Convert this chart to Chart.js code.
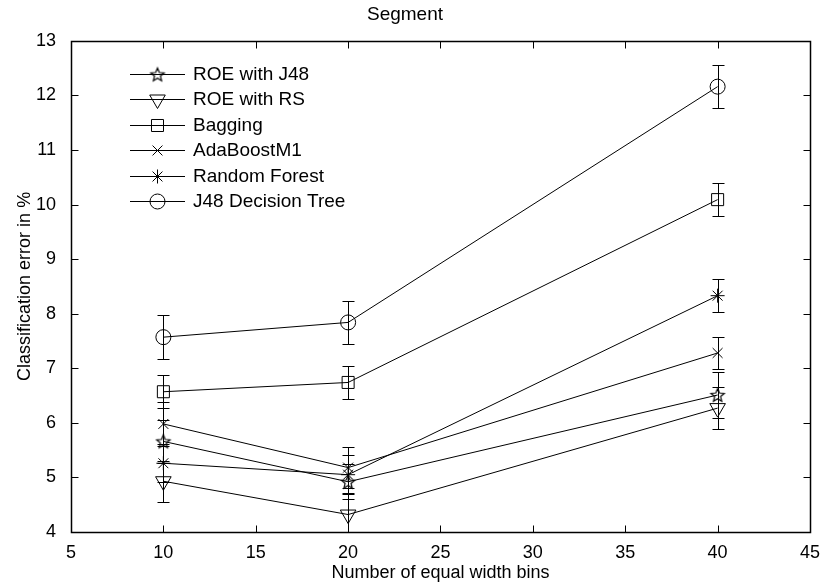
<!DOCTYPE html>
<html>
<head>
<meta charset="utf-8">
<title>Segment</title>
<script src="https://cdn.jsdelivr.net/npm/chart.js@4.4.0/dist/chart.umd.min.js"></script>
<style>
  html, body { margin: 0; padding: 0; background: #fff; }
  #wrap { width: 822px; height: 582px; }
</style>
</head>
<body>
<div id="wrap"><canvas id="chart"></canvas></div>
<script>
// bins on the x axis
const bins = [10, 20, 40]

// classification error (%) per method, with error bar half-lengths
const roeJ48 = [5.66, 4.92, 6.51]
const roeJ48Err = [0.40, 0.32, 0.42]
const roeRS = [4.93, 4.32, 6.27]
const roeRSErr = [0.38, 0.40, 0.38]
const bagging = [6.57, 6.74, 10.09]
const baggingErr = [0.30, 0.30, 0.30]
const adaBoost = [5.98, 5.18, 7.28]
const adaBoostErr = [0.40, 0.38, 0.30]
const randomForest = [5.26, 5.05, 8.33]
const randomForestErr = [0.35, 0.36, 0.30]
const j48Tree = [7.57, 7.84, 12.16]
const j48TreeErr = [0.40, 0.40, 0.40]

const xTicks = { min: 5, max: 45, step: 5 }
const yTicks = { min: 4, max: 13, step: 1 }

const FONT = '"Liberation Sans", Arial, Helvetica, sans-serif'

// five-point star marker (MATLAB 'p')
function makePentagram(r) {
  const size = Math.ceil(r * 2 + 4)
  const c = document.createElement('canvas')
  c.width = c.height = size
  const g = c.getContext('2d')
  const cx = size / 2, cy = size / 2 + 0.6, inner = r * 0.45
  g.beginPath()
  for (let k = 0; k < 10; k++) {
    const rr = k % 2 ? inner : r
    const a = -Math.PI / 2 + k * Math.PI / 5
    g.lineTo(cx + rr * Math.cos(a), cy + rr * Math.sin(a))
  }
  g.closePath()
  g.strokeStyle = '#000'
  g.lineWidth = 1.2
  g.stroke()
  return c
}

function series(label, values, errors, style) {
  return {
    label,
    data: values.map((v, i) => ({ x: bins[i], y: v })),
    errors,
    borderColor: '#000',
    borderWidth: 1,
    backgroundColor: 'transparent',
    pointBackgroundColor: 'transparent',
    pointBorderColor: '#000',
    pointBorderWidth: 1,
    tension: 0,
    ...style
  }
}

const datasets = [
  series('ROE with J48', roeJ48, roeJ48Err, { pointStyle: makePentagram(7), pointRadius: 7 }),
  series('ROE with RS', roeRS, roeRSErr, { pointStyle: 'triangle', pointRotation: 180, pointRadius: 9 }),
  series('Bagging', bagging, baggingErr, { pointStyle: 'rect', pointRadius: 8.5 }),
  series('AdaBoostM1', adaBoost, adaBoostErr, { pointStyle: 'crossRot', pointRadius: 7 }),
  series('Random Forest', randomForest, randomForestErr, { pointStyle: 'star', pointRadius: 7 }),
  series('J48 Decision Tree', j48Tree, j48TreeErr, { pointStyle: 'circle', pointRadius: 7.5 })
]

// vertical error bars with caps, clipped to the axes
const errorBars = {
  id: 'errorBars',
  afterDatasetsDraw(chart) {
    const { ctx, chartArea: a, scales: { y } } = chart
    ctx.save()
    ctx.beginPath()
    ctx.rect(a.left, a.top, a.right - a.left, a.bottom - a.top)
    ctx.clip()
    ctx.strokeStyle = '#000'
    ctx.lineWidth = 1
    chart.data.datasets.forEach((ds, i) => {
      const meta = chart.getDatasetMeta(i)
      meta.data.forEach((pt, j) => {
        const v = ds.data[j].y, e = ds.errors[j]
        const x = Math.round(pt.x) + 0.5
        const yt = Math.round(y.getPixelForValue(v + e)) + 0.5
        const yb = Math.round(y.getPixelForValue(v - e)) + 0.5
        ctx.beginPath()
        ctx.moveTo(x, yt); ctx.lineTo(x, yb)
        ctx.moveTo(x - 6, yt); ctx.lineTo(x + 6, yt)
        ctx.moveTo(x - 6, yb); ctx.lineTo(x + 6, yb)
        ctx.stroke()
      })
    })
    ctx.restore()
  }
}

// boxed axes with inward ticks on all four sides
const boxAxes = {
  id: 'boxAxes',
  afterDraw(chart) {
    const { ctx, chartArea: a, scales: { x, y } } = chart
    const L = Math.round(a.left) + 0.5, R = Math.round(a.right) + 0.5
    const T = Math.round(a.top) + 0.5, B = Math.round(a.bottom) + 0.5
    ctx.save()
    ctx.strokeStyle = '#000'
    ctx.lineWidth = 1
    ctx.beginPath()
    x.ticks.forEach(t => {
      const px = Math.round(x.getPixelForValue(t.value)) + 0.5
      ctx.moveTo(px, B); ctx.lineTo(px, B - 7)
      ctx.moveTo(px, T); ctx.lineTo(px, T + 7)
    })
    y.ticks.forEach(t => {
      const py = Math.round(y.getPixelForValue(t.value)) + 0.5
      ctx.moveTo(L, py); ctx.lineTo(L + 7, py)
      ctx.moveTo(R, py); ctx.lineTo(R - 7, py)
    })
    ctx.stroke()
    ctx.lineWidth = 1.5
    ctx.strokeRect(L, T, R - L, B - T)
    ctx.restore()
  }
}

// legend drawn inside the axes, top left
const innerLegend = {
  id: 'innerLegend',
  afterDraw(chart) {
    const { ctx, chartArea: a } = chart
    const draw = Chart.helpers && Chart.helpers.drawPoint
    ctx.save()
    ctx.font = '19px ' + FONT
    ctx.textBaseline = 'middle'
    ctx.fillStyle = '#000'
    ctx.strokeStyle = '#000'
    ctx.lineWidth = 1
    chart.data.datasets.forEach((ds, i) => {
      const yy = Math.round(a.top + 33 + i * 25.5) + 0.5
      const x0 = a.left + 59, x1 = a.left + 114, xm = (x0 + x1) / 2
      ctx.beginPath()
      ctx.moveTo(x0, yy); ctx.lineTo(x1, yy)
      ctx.stroke()
      if (draw) {
        ctx.save()
        ctx.fillStyle = 'transparent'
        draw(ctx, {
          pointStyle: ds.pointStyle,
          rotation: ds.pointRotation || 0,
          radius: ds.pointRadius,
          borderWidth: 1
        }, xm, yy)
        ctx.restore()
      }
      ctx.fillText(ds.label, a.left + 122, yy)
    })
    ctx.restore()
  }
}

new Chart(document.getElementById('chart'), {
  type: 'line',
  data: { datasets },
  plugins: [errorBars, boxAxes, innerLegend],
  options: {
    responsive: true,
    maintainAspectRatio: false,
    animation: false,
    devicePixelRatio: 1,
    layout: { padding: { left: 0, right: 12, top: 0, bottom: 0 } },
    plugins: {
      legend: { display: false },
      tooltip: { enabled: false },
      title: {
        display: true,
        text: 'Segment',
        color: '#000',
        font: { family: FONT, size: 19, weight: 'normal' },
        padding: { top: 3, bottom: 15 }
      }
    },
    scales: {
      x: {
        type: 'linear',
        min: xTicks.min,
        max: xTicks.max,
        grid: { display: false },
        border: { display: false },
        ticks: {
          stepSize: xTicks.step,
          color: '#000',
          padding: 2,
          maxRotation: 0,
          font: { family: FONT, size: 18 }
        },
        title: {
          display: true,
          text: 'Number of equal width bins',
          color: '#000',
          font: { family: FONT, size: 18, lineHeight: 1.0 },
          padding: 0
        },
        afterFit: s => { s.height = 50 }
      },
      y: {
        type: 'linear',
        min: yTicks.min,
        max: yTicks.max,
        grid: { display: false },
        border: { display: false },
        ticks: {
          stepSize: yTicks.step,
          color: '#000',
          padding: 7,
          font: { family: FONT, size: 18 }
        },
        title: {
          display: true,
          text: 'Classification error in %',
          color: '#000',
          font: { family: FONT, size: 18 },
          padding: { top: 14, bottom: 0 }
        },
        afterFit: s => { s.width = 71 }
      }
    }
  }
})
</script>
</body>
</html>
